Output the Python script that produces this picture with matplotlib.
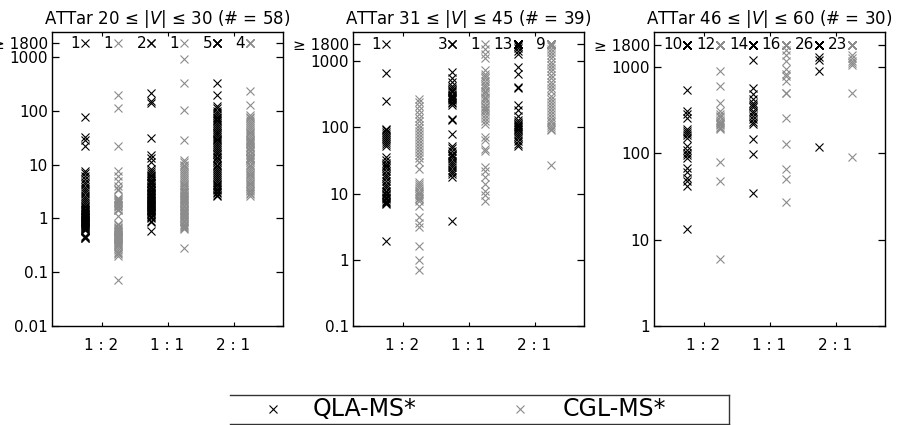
import numpy as np
import matplotlib
matplotlib.use("Agg")
import matplotlib.pyplot as plt
from matplotlib.lines import Line2D

plt.rcParams["font.family"] = ["DejaVu Sans"]
plt.rcParams["mathtext.fontset"] = "dejavusans"

BLACK = "#000000"
GREY = "#8c8c8c"
CAP = 1800

ratios = ["1 : 2", "1 : 1", "2 : 1"]

# ATTar 20 <= |V| <= 30, 58 instances
qla1_12 = [76, 32, 28, 22, 7.5, 7.0, 6.2, 5.5, 4.8, 4.3, 3.9, 3.5, 3.2, 2.9, 2.6, 2.4, 2.2, 2.0, 1.85,
           1.7, 1.6, 1.5, 1.45, 1.4, 1.35, 1.3, 1.25, 1.2, 1.17, 1.14, 1.1, 1.07, 1.04, 1.0, 0.98, 0.95,
           0.93, 0.9, 0.88, 0.86, 0.84, 0.82, 0.8, 0.78, 0.76, 0.74, 0.72, 0.7, 0.68, 0.66, 0.64, 0.62,
           0.6, 0.47, 0.45, 0.44, 0.43]
cgl1_12 = [192, 112, 22.5, 7.5, 6.2, 5.0, 4.0, 3.5, 3.4, 2.4, 2.3, 2.2, 2.1, 2.0, 1.9, 1.8, 1.75, 1.7,
           1.6, 1.5, 1.45, 1.4, 1.1, 0.78, 0.74, 0.7, 0.66, 0.63, 0.6, 0.58, 0.56, 0.54, 0.52, 0.5, 0.49,
           0.48, 0.47, 0.46, 0.45, 0.44, 0.43, 0.42, 0.41, 0.4, 0.38, 0.36, 0.35, 0.34, 0.32, 0.3, 0.28,
           0.26, 0.24, 0.23, 0.22, 0.2, 0.072]
qla1_11 = [212, 150, 140, 31, 15, 13, 11, 8.1, 7.5, 7, 6.5, 6, 5.6, 5.2, 4.9, 4.6, 4.45, 4.3, 4.0, 3.8,
           3.6, 3.4, 3.3, 3.2, 3.0, 2.9, 2.8, 2.7, 2.6, 2.5, 2.4, 2.3, 2.2, 2.1, 2.0, 1.9, 1.85, 1.8,
           1.75, 1.7, 1.65, 1.6, 1.55, 1.5, 1.45, 1.4, 1.35, 1.3, 1.25, 1.2, 1.1, 1.05, 1.0, 0.9, 0.85,
           0.58]
cgl1_11 = [905, 325, 104, 28, 12.4, 11, 10, 9.2, 8.5, 7.8, 7.2, 6.6, 6.1, 5.6, 5.2, 4.8, 4.4, 4.1, 3.8,
           3.5, 3.3, 3.1, 3.0, 2.9, 2.7, 2.6, 2.5, 2.4, 2.3, 2.2, 2.1, 2.0, 1.9, 1.8, 1.7, 1.6, 1.5, 1.45,
           1.4, 1.35, 1.3, 1.25, 1.2, 1.15, 1.1, 1.05, 1.0, 0.95, 0.9, 0.85, 0.8, 0.76, 0.72, 0.68, 0.65,
           0.63, 0.28]
qla1_21 = [325, 200, 124, 110, 100, 92, 85, 78, 72, 66, 64, 60, 55, 50, 46, 42, 39, 38, 36, 33, 30, 28,
           26, 24, 22, 20, 18.5, 17, 16, 15.5, 14, 13, 12, 11, 10, 9.2, 8.5, 7.8, 7.2, 6.6, 6.1, 5.6,
           5.2, 4.8, 4.4, 4.1, 3.8, 3.5, 3.3, 3.1, 2.9, 2.75, 2.6]
cgl1_21 = [228, 129, 84, 78, 72, 66, 61, 56, 52, 48, 44, 41, 38, 35, 32, 30, 28, 27, 26, 25, 24, 22, 21,
           20.5, 19, 18, 17.5, 16, 15, 14, 13.5, 13, 12.5, 12, 11, 10, 9.3, 8.6, 8, 7.4, 6.8, 6.3, 5.8,
           5.4, 5, 4.6, 4.3, 4, 3.7, 3.4, 3.2, 3, 2.8, 2.6]

# ATTar 31 <= |V| <= 45, 39 instances
qla2_12 = [666, 248, 96, 90, 85, 80, 75, 70, 65, 60, 56, 53, 35.5, 32, 29, 27, 26, 24, 22, 20, 18.5, 17,
           15.5, 14, 13, 12, 11, 10.5, 10, 9.5, 9, 8.6, 8.2, 7.8, 7.4, 7.1, 7.0, 1.9]
cgl2_12 = [271, 240, 210, 185, 160, 140, 125, 110, 98, 88, 80, 72, 65, 58, 52, 47, 42, 38, 34, 30, 23.6,
           15, 14, 13, 12, 11, 10.3, 9.7, 9.2, 8.7, 8.2, 7.6, 6.6, 4.4, 3.6, 3.1, 1.6, 0.99, 0.69]
qla2_11 = [690, 560, 480, 420, 400, 370, 350, 340, 310, 300, 285, 275, 265, 255, 245, 230, 215, 135,
           130, 80, 53, 48, 44, 40, 38, 37, 34, 31, 29, 27, 25, 23, 21, 19.5, 17.8, 3.9]
cgl2_11 = [1550, 1300, 1100, 730, 640, 600, 560, 500, 450, 420, 400, 360, 340, 320, 290, 275, 260, 235,
           210, 200, 190, 180, 170, 155, 140, 125, 113, 71, 65, 47, 44, 25, 22, 18, 14, 11, 9.5, 7.8]
qla2_21 = [1700, 1600, 1450, 1300, 820, 650, 408, 400, 215, 180, 150, 130, 120, 112, 110, 105, 100, 95,
           90, 85, 80, 74, 68, 62, 57, 53]
cgl2_21 = [1700, 1550, 1400, 1250, 1100, 980, 870, 780, 700, 620, 550, 490, 440, 400, 360, 300, 270, 240,
           215, 195, 175, 160, 145, 130, 120, 110, 100, 95, 90, 27]

# ATTar 46 <= |V| <= 60, 30 instances
qla3_12 = [544, 306, 280, 257, 189, 180, 170, 160, 151, 121, 110, 100, 95, 89, 68, 60, 52, 47, 42, 13.4]
cgl3_12 = [884, 594, 382, 306, 280, 270, 260, 240, 230, 225, 215, 210, 200, 195, 189, 78, 47, 6]
qla3_11 = [1200, 570, 480, 420, 380, 360, 340, 310, 290, 270, 250, 230, 216, 145, 98, 35]
cgl3_11 = [1560, 1370, 1150, 950, 820, 780, 680, 500, 490, 257, 127, 66, 50, 27]
qla3_21 = [1310, 1200, 884, 119]
cgl3_21 = [1370, 1250, 1150, 1100, 1050, 500, 91]

# number of runs that hit the 1800 s limit
qla_timeouts = [[1, 2, 5], [1, 3, 13], [10, 14, 26]]
cgl_timeouts = [[1, 1, 4], [0, 1, 9], [12, 16, 23]]

panels = [
    dict(title="ATTar 20 ≤ |$V$| ≤ 30 (# = 58)", qla=[qla1_12, qla1_11, qla1_21],
         cgl=[cgl1_12, cgl1_11, cgl1_21], ylim=(0.01, 2900),
         yticks=[0.01, 0.1, 1, 10, 100, 1000], left=52),
    dict(title="ATTar 31 ≤ |$V$| ≤ 45 (# = 39)", qla=[qla2_12, qla2_11, qla2_21],
         cgl=[cgl2_12, cgl2_11, cgl2_21], ylim=(0.1, 2760),
         yticks=[0.1, 1, 10, 100, 1000], left=353),
    dict(title="ATTar 46 ≤ |$V$| ≤ 60 (# = 30)", qla=[qla3_12, qla3_11, qla3_21],
         cgl=[cgl3_12, cgl3_11, cgl3_21], ylim=(1, 2520),
         yticks=[1, 10, 100, 1000], left=654),
]

W, H = 901, 425
fig = plt.figure(figsize=(W / 100, H / 100), dpi=100)

mk = dict(marker="x", linestyle="none", markersize=6, markeredgewidth=0.8)

for i, p in enumerate(panels):
    ax = fig.add_axes([p["left"] / W, 1 - 326 / H, 231 / W, 294 / H])
    ax.set_yscale("log")
    for g in range(3):
        xq, xc = g + 1 - 0.25, g + 1 + 0.25
        ax.plot([xq] * len(p["qla"][g]), p["qla"][g], color=BLACK, **mk)
        ax.plot([xc] * len(p["cgl"][g]), p["cgl"][g], color=GREY, **mk)
        for x, n, col in [(xq, qla_timeouts[i][g], BLACK), (xc, cgl_timeouts[i][g], GREY)]:
            if n > 0:
                ax.plot([x] * n, [CAP] * n, color=col, **mk)
                ax.annotate(str(n), xy=(x, CAP), xytext=(-3.5, 0), textcoords="offset points",
                            ha="right", va="center", fontsize=11, color=BLACK)
    ax.set_xlim(0.25, 3.75)
    ax.set_ylim(*p["ylim"])
    ticks = p["yticks"] + [CAP]
    labels = [("%g" % t) for t in p["yticks"]] + ["≥ 1800"]
    ax.set_yticks(ticks)
    ax.set_yticklabels(labels)
    ax.yaxis.set_minor_locator(matplotlib.ticker.NullLocator())
    ax.set_xticks([1, 2, 3])
    ax.set_xticklabels(ratios)
    ax.tick_params(axis="y", which="major", direction="in", length=5, width=0.9,
                   left=True, right=True, labelsize=11, pad=3)
    ax.tick_params(axis="x", direction="in", length=3, width=0.8, top=True, bottom=True,
                   labelsize=11, pad=9)
    for s in ax.spines.values():
        s.set_linewidth(1.0)
    ax.set_title(p["title"], fontsize=12, pad=6)

# legend box (open on the left like the original)
x0, x1 = 230 / W, 729 / W
yt, yb = 1 - 395 / H, 1 - 424 / H
for xs, ys in [([x0, x1], [yt, yt]), ([x0, x1], [yb, yb]), ([x1, x1], [yt, yb])]:
    fig.add_artist(Line2D(xs, ys, color="#333333", linewidth=1.0, transform=fig.transFigure))
ym = 1 - 409 / H
fig.add_artist(Line2D([273 / W], [ym], color=BLACK, transform=fig.transFigure, **mk))
fig.text(313 / W, ym, "QLA-MS*", fontsize=17, va="center", ha="left")
fig.add_artist(Line2D([520 / W], [ym], color=GREY, transform=fig.transFigure, **mk))
fig.text(563 / W, ym, "CGL-MS*", fontsize=17, va="center", ha="left")

fig.savefig("out.png", dpi=100)
